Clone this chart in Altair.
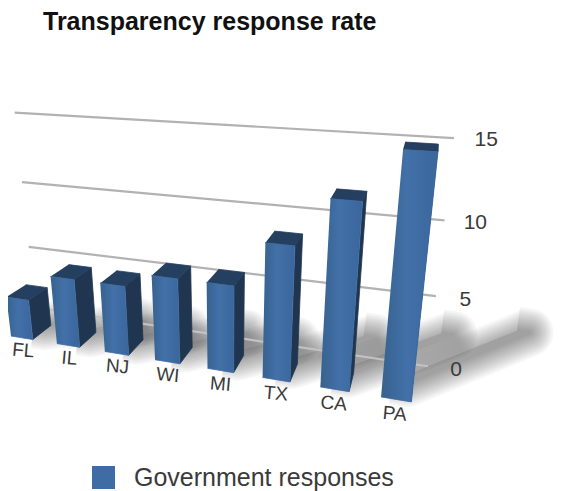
import altair as alt
import pandas as pd

STATES = ["FL", "IL", "NJ", "WI", "MI", "TX", "CA", "PA"]
RESPONSES = [3, 5, 5, 6, 6, 9, 12, 15]
GRID_VALUES = [0, 5, 10, 15]
SERIES = "Government responses"
TITLE = "Transparency response rate"

FONT = "Liberation Sans"
BAR_W = 0.48
SHADOW_WIDTHS = [48, 44, 40, 36, 32, 28, 24, 20, 16, 12, 8, 4]


def project(i, d, v):
    """Perspective camera of the 3-D chart: slot i, depth d, value v -> page pixels."""
    w = 1 - 0.0215 * i + 0.046 * d - 0.00704 * v
    return (
        (11 + 44.67 * i + 20.2 * d - 1.59 * v) / w,
        (336 + 0.17 * i + 0.92 * d - 15.06 * v) / w,
    )


def poly(name, pts):
    return [
        dict(zip(("x", "y"), project(*p)), name=name, k=n) for n, p in enumerate(pts)
    ]


front, top, side, shadow = [], [], [], []
for n, (s, v) in enumerate(zip(STATES, RESPONSES)):
    a, b = n, n + BAR_W
    front += poly(s, [(a, 0, v), (b, 0, v), (b, 0, 0), (a, 0, 0)])
    top += poly(s, [(a, 0, v), (b, 0, v), (b, 1, v), (a, 1, v)])
    side += poly(s, [(b, 0, v), (b, 1, v), (b, 1, 0), (b, 0, 0)])
    dx, dy = 0.15 * v, 0.31 * v
    shadow += poly(
        s,
        [
            (a + 0.15, 0.9, 0),
            (b - 0.1, 0.9, 0),
            (b - 0.1 + dx, 0.5 + dy, 0),
            (a + 0.15 + dx, 0.5 + dy, 0),
        ],
    )

grid = []
for v in GRID_VALUES:
    grid += poly(str(v), [(-0.29, 2, v), (7.72, 2, v)])
grid_zero = [row for row in grid if row["name"] == "0"]
grid_rest = [row for row in grid if row["name"] != "0"]

cat_labels = pd.DataFrame(
    [
        dict(zip(("x", "y"), project(n + BAR_W / 2, 0, -1)), t=s)
        for n, s in enumerate(STATES)
    ]
)
val_labels = pd.DataFrame(
    [dict(zip(("x", "y"), project(8.2, 2, v)), t=str(v)) for v in GRID_VALUES]
)

X = alt.X("x:Q", axis=None, scale=alt.Scale(domain=[8, 555], nice=False, zero=False))
Y = alt.Y("y:Q", axis=None, scale=alt.Scale(domain=[491, 8], nice=False, zero=False))


def shape(rows, **mark):
    return (
        alt.Chart(pd.DataFrame(rows))
        .mark_line(**mark)
        .encode(x=X, y=Y, detail="name:N", order="k:Q")
    )


front_fill = alt.Gradient(
    gradient="linear",
    x1=0,
    x2=1,
    y1=0,
    y2=0,
    stops=[
        alt.GradientStop(color="#37628f", offset=0),
        alt.GradientStop(color="#4270a8", offset=0.45),
        alt.GradientStop(color="#3a669c", offset=1),
    ],
)

layers = []
for width in SHADOW_WIDTHS:
    layers.append(
        shape(
            shadow,
            fill="#000000",
            stroke="#000000",
            strokeWidth=width,
            strokeJoin="round",
            opacity=0.032,
        )
    )
layers += [
    shape(grid_zero, stroke="#c2c2c2", strokeWidth=2.2),
    shape(grid_rest, stroke="#b2b2b2", strokeWidth=2.2),
    shape(side, fill="#203650", stroke="#203650", strokeWidth=0.8),
    shape(top, fill="#253f60", stroke="#253f60", strokeWidth=0.8),
    shape(front, fill=front_fill, stroke="#3d6ba1", strokeWidth=0.8),
    alt.Chart(cat_labels)
    .mark_text(font=FONT, fontSize=19, color="#3a3a3a", angle=5, baseline="middle")
    .encode(x=X, y=Y, text="t:N"),
    alt.Chart(val_labels)
    .mark_text(font=FONT, fontSize=21, color="#3a3a3a", baseline="middle")
    .encode(x=X, y=Y, text="t:N"),
    alt.Chart(pd.DataFrame({"x": [43], "y": [22], "t": [TITLE]}))
    .mark_text(
        font=FONT, fontSize=25, fontWeight="bold", color="#111111", align="left",
        baseline="middle",
    )
    .encode(x=X, y=Y, text="t:N"),
    alt.Chart(pd.DataFrame({"x": [43], "y": [22], "s": [SERIES]}))
    .mark_square(size=0)
    .encode(
        x=X,
        y=Y,
        color=alt.Color(
            "s:N",
            scale=alt.Scale(domain=[SERIES], range=["#3e6ca5"]),
            legend=alt.Legend(
                title=None,
                orient="none",
                legendX=83,
                legendY=457,
                symbolType="square",
                symbolSize=529,
                symbolStrokeWidth=0,
                symbolOpacity=1,
                labelFont=FONT,
                labelFontSize=25,
                labelColor="#3a3a3a",
                labelOffset=18,
                labelLimit=400,
                padding=0,
            ),
        ),
    ),
]

chart = (
    alt.layer(*layers)
    .properties(
        width=547,
        height=483,
        padding=0,
        autosize=alt.AutoSizeParams(type="none"),
        background="white",
    )
    .configure_view(stroke=None)
)

chart.save("out.html", embed_options={"renderer": "svg", "actions": False})
